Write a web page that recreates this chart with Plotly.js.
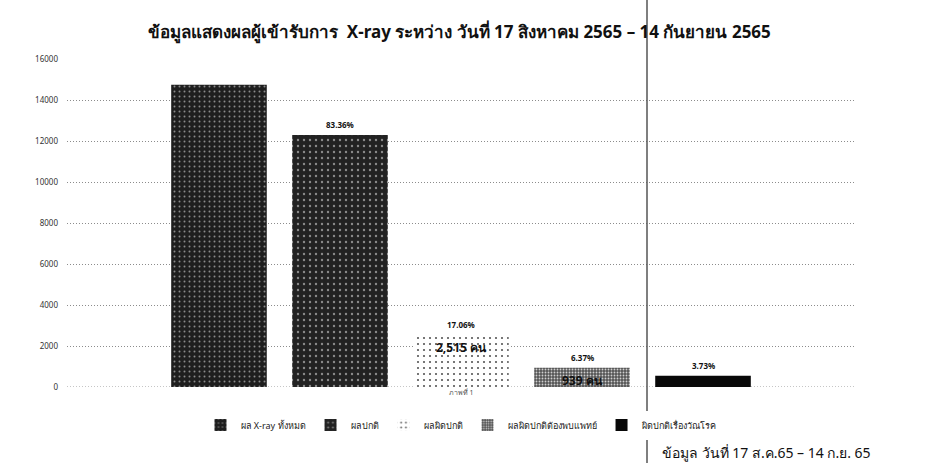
<!DOCTYPE html>
<html>
<head>
<meta charset="utf-8">
<script src="https://cdn.plot.ly/plotly-3.0.1.min.js"></script>
<style>html,body{margin:0;padding:0;background:#fff;}#chart{width:930px;height:463px;}</style>
</head>
<body>
<div id="chart"></div>
<script>
// ---- data ----
const seriesNames = ["ผล X-ray ทั้งหมด", "ผลปกติ", "ผลผิดปกติ", "ผลผิดปกติต้องพบแพทย์", "ผิดปกติเรื่องวัณโรค"];
const seriesValues = [14743, 12290, 2515, 939, 550];
const percentLabels = ["", "83.36%", "17.06%", "6.37%", "3.73%"];
const countLabels = ["", "", "2,515 คน", "939 คน", ""];
const categoryLabel = ["ภาพที่ 1"];
const yTicks = [0, 2000, 4000, 6000, 8000, 10000, 12000, 14000, 16000];

// ---- styles ----
const colors = ["#262626", "#2c2c2c", "#f4f4f4", "#7a7a7a", "#080808"];
const patterns = [
  {shape: ".", fgcolor: "#8a8a8a", bgcolor: "#1e1e1e", size: 5, solidity: 0.12},
  {shape: ".", fgcolor: "#8a8a8a", bgcolor: "#222222", size: 6, solidity: 0.12},
  {shape: ".", fgcolor: "#555555", bgcolor: "#ffffff", size: 6, solidity: 0.1},
  {shape: ".", fgcolor: "#cfcfcf", bgcolor: "#555555", size: 3, solidity: 0.3},
  {shape: "", fgcolor: "#000", bgcolor: "#080808", size: 4, solidity: 0.2}
];

const traces = seriesNames.map((name, i) => ({
  type: "bar",
  name: name,
  x: [i],
  y: [seriesValues[i]],
  width: 0.79,
  marker: {color: colors[i], pattern: patterns[i], line: {width: 0}},
  hoverinfo: "skip"
}));

const fontFam = "Tahoma, Noto Sans, sans-serif";
const annotations = [];
seriesValues.forEach((v, i) => {
  if (percentLabels[i]) {
    annotations.push({x: i, y: v, xref: "x", yref: "y", text: "<b>" + percentLabels[i] + "</b>",
      showarrow: false, yanchor: "bottom", yshift: 3, font: {size: 8, color: "#111", family: fontFam}});
  }
  if (countLabels[i]) {
    annotations.push({x: i, y: v, xref: "x", yref: "y", text: "<b>" + countLabels[i] + "</b>",
      showarrow: false, yanchor: "top", yshift: -2, font: {size: 12, color: "#111", family: fontFam}});
  }
});
annotations.push({
  x: (873 - 67) / 788, y: (387 - 452) / 328, xref: "paper", yref: "paper",
  text: "ข้อมูล วันที่ 17 ส.ค.65 – 14 ก.ย. 65",
  showarrow: false, xanchor: "right", yanchor: "middle",
  font: {size: 14, color: "#111", family: fontFam}
});

const layout = {
  width: 930, height: 463,
  margin: {l: 67, r: 75, t: 59, b: 76},
  paper_bgcolor: "#fff", plot_bgcolor: "#fff",
  title: {text: "<b>ข้อมูลแสดงผลผู้เข้ารับการ  X-ray ระหว่าง วันที่ 17 สิงหาคม 2565 – 14 กันยายน 2565</b>",
    x: 0.494, xanchor: "center", y: 0.93, yanchor: "middle",
    font: {size: 17, color: "#111", family: fontFam}},
  barmode: "overlay",
  showlegend: true,
  legend: {orientation: "h", x: 0.5, xanchor: "center", y: -0.116, yanchor: "middle",
    font: {size: 9, color: "#222", family: fontFam}, itemwidth: 30, traceorder: "normal"},
  xaxis: {range: [-1.256, 5.256], tickvals: [2], ticktext: categoryLabel, showgrid: false, zeroline: false,
    showline: false, ticks: "", tickfont: {size: 7, color: "#555", family: fontFam}, fixedrange: true},
  yaxis: {range: [0, 16000], tickvals: yTicks, tickformat: "d", showgrid: true, gridcolor: "#8c8c8c", griddash: "1px,2px",
    gridwidth: 1, zeroline: false, showline: false, ticks: "", ticklabelstandoff: 8,
    tickfont: {size: 8, color: "#333", family: fontFam}, fixedrange: true},
  annotations: annotations,
  shapes: [
    {type: "line", xref: "paper", yref: "y", x0: 0, x1: 1, y0: 0, y1: 0, layer: "below",
      line: {color: "#8c8c8c", width: 1, dash: "1px,2px"}},
    {type: "line", xref: "paper", yref: "paper", x0: (647 - 67) / 788, x1: (647 - 67) / 788,
      y0: (387 - 463) / 328, y1: (387 - 0) / 328, line: {color: "#555", width: 1.5}}
  ]
};

Plotly.newPlot("chart", traces, layout, {displayModeBar: false, staticPlot: true});
</script>
</body>
</html>
